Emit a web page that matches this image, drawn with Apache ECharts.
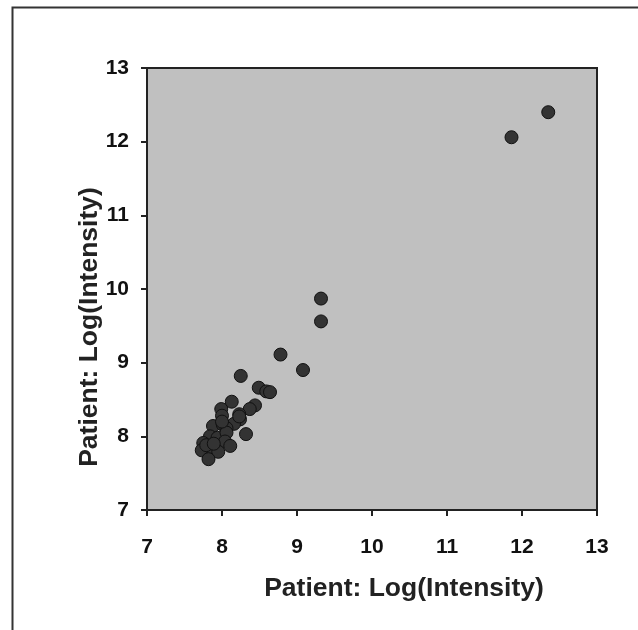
<!DOCTYPE html>
<html><head><meta charset="utf-8">
<script src="https://cdn.jsdelivr.net/npm/echarts@6/dist/echarts.min.js"></script>
<style>html,body{margin:0;padding:0;background:#fff}#c{width:638px;height:630px}</style>
</head><body><div id="c"></div>
<script>
const xValues = [8.78, 9.08, 8.25, 8.49, 8.59, 8.64, 8.13, 8.44, 8.37, 7.99, 8.23, 8.00, 8.24, 8.16, 7.88, 8.01, 8.06, 8.32, 7.84, 7.94, 8.06, 7.75, 8.04, 8.11, 7.73, 7.86, 7.95, 7.82, 7.79, 7.89, 8.00, 8.23, 9.32, 9.32, 11.86, 12.35];
const yValues = [9.11, 8.90, 8.82, 8.66, 8.61, 8.60, 8.47, 8.42, 8.37, 8.37, 8.30, 8.28, 8.23, 8.17, 8.14, 8.16, 8.11, 8.03, 8.00, 7.98, 8.05, 7.91, 7.93, 7.87, 7.81, 7.84, 7.79, 7.69, 7.88, 7.90, 8.20, 8.27, 9.87, 9.56, 12.06, 12.40];
const xTitle = 'Patient: Log(Intensity)';
const yTitle = 'Patient: Log(Intensity)';
const axisMin = 7, axisMax = 13, axisStep = 1;

const points = xValues.map((x, i) => [x, yValues[i]]);
const font = 'Liberation Sans, Arial, sans-serif';
const chart = echarts.init(document.getElementById('c'), null, {renderer: 'canvas'});
chart.setOption({
  animation: false,
  grid: {left: 147, top: 68, width: 450, height: 442, show: true, backgroundColor: '#c0c0c0', borderColor: '#222', borderWidth: 2},
  xAxis: {type: 'value', min: axisMin, max: axisMax, interval: axisStep,
    axisLine: {show: true, lineStyle: {color: '#222', width: 2}},
    axisTick: {show: true, length: 6, lineStyle: {color: '#222', width: 2}},
    axisLabel: {color: '#111', fontFamily: font, fontWeight: 'bold', fontSize: 21, margin: 27},
    splitLine: {show: false}},
  yAxis: {type: 'value', min: axisMin, max: axisMax, interval: axisStep,
    axisLine: {show: true, lineStyle: {color: '#222', width: 2}},
    axisTick: {show: true, length: 6, lineStyle: {color: '#222', width: 2}},
    axisLabel: {color: '#111', fontFamily: font, fontWeight: 'bold', fontSize: 21, margin: 18},
    splitLine: {show: false}},
  graphic: [
    {type: 'rect', shape: {x: 12.5, y: 7.5, width: 700, height: 700}, style: {fill: 'none', stroke: '#333', lineWidth: 2}, z: 100},
    {type: 'text', x: 404, y: 589, scaleX: 1.06, style: {text: xTitle, fill: '#222', font: 'bold 25px ' + font, textAlign: 'center', textVerticalAlign: 'middle'}},
    {type: 'text', x: 90, y: 327, rotation: Math.PI / 2, scaleX: 1.06, style: {text: yTitle, fill: '#222', font: 'bold 25px ' + font, textAlign: 'center', textVerticalAlign: 'middle'}}
  ],
  series: [{type: 'scatter', data: points, symbol: 'circle', symbolSize: 13,
    itemStyle: {color: '#333', borderColor: '#111', borderWidth: 1, opacity: 1}}]
});
</script></body></html>
